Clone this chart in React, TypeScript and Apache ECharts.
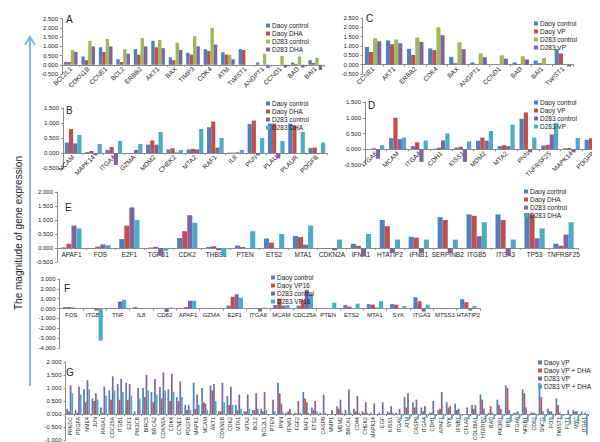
import React, { useEffect, useRef } from "react";
import * as echarts from "echarts";

const FONT = "Liberation Sans, Arial, sans-serif";
const BLUE = "#4F81BD", RED = "#C0504D", GREEN = "#9BBB59", PURPLE = "#8064A2", CYAN = "#4BACC6";

// Panel A
const aCats = ["BCL2L1","CDKN1B","CCNE1","BCL2","ERBB2","AKT1","BAX","TIMP3","CDK4","ATM","TWIST1","ANGPT1","CCND1","BAD","BAI1"];
const aNames = ["Daoy control","Daoy DHA","D283 control","D283 DHA"];
const aDaoyCtrl = [0.15,0.45,0.95,0.3,0.85,1.3,0.4,0.65,0.85,0.68,0.85,0.12,0,0.12,0.25];
const aDaoyDha = [0.15,0.25,0.7,0.15,0.55,0.95,0.25,0.55,0.75,0.55,0.8,0,0,0.05,0.1];
const aD283Ctrl = [0.8,1.3,1.4,0.85,1.45,1.35,1.2,1.55,2.0,0.55,0,0.6,0.48,0.45,0.38];
const aD283Dha = [0.7,1.0,1.0,0.6,1.0,0.9,0.8,1.0,1.1,0.3,0,-0.18,-0.15,-0.15,-0.28];

// Panel C
const cCats = ["CCNE1","AKT1","ERBB2","CDK4","BAX","ANGPT1","CCND1","BAD","BAI1","TWIST1"];
const cNames = ["Daoy control","Daoy VP","D283 control","D283 VP"];
const cDaoyCtrl = [0.95,1.3,0.85,0.87,0.42,0.12,0,0.12,0.22,0.83];
const cDaoyVp = [0.68,1.1,0.52,0.78,0.08,0,0,0.02,0.08,0.6];
const cD283Ctrl = [1.42,1.35,1.45,2.0,1.2,0.6,0.5,0.45,0.35,0];
const cD283Vp = [1.25,1.15,1.22,1.58,0.83,0.4,0.32,0.28,0.02,-0.1];

// Panel B
const bCats = ["MCAM","MAPK14","ITGA4","GZMA","MDM2","CHEK2","MTA2","RAF1","IL8","PNN","PLAU","PLAUR","PDGFB"];
const bNames = ["Daoy control","Daoy DHA","D283 control","D283 DHA"];
const bDaoyCtrl = [0.35,0.03,0.1,0,0.28,0.12,0.12,0.86,0.01,0.97,0.98,0.98,0.17];
const bDaoyDha = [0.8,0.07,0.2,0,0.42,0.16,0.14,1.05,0.01,1.08,0.98,0.92,0.18];
const bD283Ctrl = [0.32,-0.08,-0.4,0.1,0.28,0.02,0.12,0.18,0.02,-0.08,-0.18,0,-0.03];
const bD283Dha = [0.6,0.3,0.4,0.3,0.7,0.1,0.8,0.5,0.1,0.5,0.4,0.7,0.35];

// Panel D
const dCats = ["ITGA6","MCAM","ITGA4","CDH1","KISS1","MDM2","MTA2","PNN","TNFRSF25","MAPK14","PDGFB"];
const dNames = ["Daoy control","Daoy VP","D283 control","D283 VP"];
const dDaoyCtrl = [0,0.35,0.1,0.02,0.05,0.27,0.1,0.97,0.12,0.03,0.3];
const dDaoyVp = [0.03,1.0,0.22,0.05,0.08,0.37,0.13,1.17,0.14,0.04,0.35];
const dD283Ctrl = [-0.3,0.32,-0.4,0.28,-0.4,0.27,0.1,-0.1,0.47,-0.1,0.05];
const dD283Vp = [0.13,0.37,0.28,0.5,0.25,0.58,0.78,0.37,0.83,0.36,0.33];

// Panel E
const eCats = ["APAF1","FOS","E2F1","TGFB1","CDK2","THBS1","PTEN","ETS2","MTA1","CDKN2A","IFNA1","HTATIP2","IFNB1","SERPINB2","ITGB5","ITGA3","TP53","TNFRSF25"];
const eNames = ["Daoy control","Daoy DHA","D283 control","D283 DHA"];
const eDaoyCtrl = [0.02,0,0.32,0.02,0.36,0.04,0.09,0.34,0.43,-0.02,0.15,1.0,0.4,1.1,1.2,1.2,1.25,0.15];
const eDaoyDha = [0.15,0.05,0.8,0.04,0.6,0.06,0.04,0.19,0.39,-0.02,0.08,0.78,0.37,1.0,1.15,1.0,1.2,0.08];
const eD283Ctrl = [0.8,0.13,1.45,-0.28,1.17,-0.08,0,0,0.12,-0.08,-0.3,-0.18,-0.18,-0.18,0.42,-0.25,0.35,0.48];
const eD283Dha = [0.7,0.1,1.0,-0.1,0.9,-0.3,0.6,0.5,0.8,0.3,0.5,0.3,0.3,0.3,0.92,0.3,0.7,0.92];

// Panel F
const fCats = ["FOS","ITGB3","TNF","IL8","CD82","APAF1","GZMA","E2F1","ITGA6","MCAM","CDC25A","PTEN","ETS2","MTA1","SYK","ITGA3","MTSS1","HTATIP2"];
const fNames = ["Daoy control","Daoy VP16","D283 control","D283 VP16"];
const fDaoyCtrl = [0.15,0,0,0.15,0,0,0,0.3,0,0.35,0.3,0.05,0.35,0.45,0.45,1.15,0.05,0.95];
const fDaoyVp16 = [0.15,0,0,0.05,0,0.15,0,1.2,0.05,1.0,0.85,0.02,0.2,0.4,0.4,0.75,0.05,0.65];
const fD283Ctrl = [0.1,-0.2,0.7,0,-0.35,0.8,0.05,1.45,-0.3,0.3,1.9,0,0,0.1,0,-0.3,-0.05,-0.2];
const fD283Vp16 = [0.05,-3.25,0.9,0,0.1,0.8,0,1.1,0.1,0.35,1.5,0.6,0.5,0.75,0.25,0.4,0.05,0.25];

// Panel G
const gCats = ["PRKDC","PDGFA","NME4","JUN","RASA1","CDC25A","ITGB1","E2F1","PIK3CB","BIRC5","BRCA2","CDKN1A","CDK4","CCNE1","PDGFB","MAPK1","MCAM","AKT1","CDKN1B","CDK2","MTA1","MTA2","BCL2","BCL2L1","PTEN","PNN","IFNA1","FGF2","RAF1","ETS2","CASP8","MMP1","MDM2","BRCA1","CD44","CHEK2","MAPK14","EGF","KISS1","ITGAV","ATM","CASP9","ITGA4","CDH1","APAF1","SYK","IFNB1","CFLAR","COL18A1","HTATIP2","BAD","PIK3R1","RB1","ITGA6","NFKB1","CD82","SNCG","FOS","TWIST1","FLT1","MYC","ITGA1"];
const gNames = ["Daoy VP","Daoy VP + DHA","D283 VP","D283 VP + DHA"];
const gDaoyVp = [0.2,0.15,0.95,0.6,0.25,0.9,1.15,1.2,0.1,1.0,0.85,1.05,0.95,0.65,0.35,1.2,1.0,1.1,0.1,0.7,0.35,0.1,0.15,0.2,0,1.2,0.05,0.05,0.85,0.25,0.05,0,0.3,0.15,0.2,0.1,0.05,0.05,0.1,0.05,0.65,0.45,0.25,0.05,0.15,0.45,0.4,0,0.35,0.75,0.05,0.55,1.1,0.05,0.95,0.05,1.2,0.2,0.6,0,0.15,0.1];
const gDaoyVpDha = [0.1,0.05,0.45,0.5,0.05,0.55,0.55,0.55,0,0.65,0.45,0.6,0.5,0.5,0.15,0.2,0.45,0.9,0.1,0.35,0.15,0.1,0.15,0.1,0,0.8,0.1,0.02,0.6,0.15,0,0,0.2,0,0.1,0.05,0,0,0.05,0,0.25,0.25,0.1,0.05,0.2,0.25,0.15,0,0.2,0.55,0.3,0.35,1.0,0.05,0.8,0.05,0.65,0.1,0.35,0,0.1,0];
const gD283Vp = [1.1,1.05,1.3,0.8,1.05,1.45,1.35,1.15,1.0,1.5,1.35,1.6,1.55,1.25,0.35,0.75,0.4,1.15,1.2,1.05,0.75,0.75,0.8,0.85,0.55,0.4,0.2,0.5,0.45,0.5,0.75,0.15,0.55,0.95,0.7,0.45,0.4,0.45,0.3,0.2,0.8,0.55,0.3,0.5,0.85,0.3,0.2,0.25,0.35,0.2,0.05,0.2,0.15,0.1,0.25,0.05,0.1,0.1,0.05,0.15,0.1,0.05];
const gD283VpDha = [0.8,0.75,0.95,0.55,0.7,0.9,0.85,0.7,0.6,0.9,0.75,0.9,0.85,0.65,0.15,0.35,0.15,0.5,0.45,0.35,0.2,0.2,0.2,0.15,0.1,0.05,0.02,0.05,0.05,0.1,0.05,0,0.05,0.05,0.05,0.05,0,0,0.05,-0.2,-0.2,-0.2,-0.15,-0.2,-0.2,-0.2,-0.2,-0.2,-0.2,-0.3,-0.2,-0.2,-0.3,-0.2,-0.3,-0.2,-0.3,-0.2,-0.2,-0.4,-0.4,-0.8];

type Panel = {
  cats: string[]; names: string[]; colors: string[]; values: number[][];
  grid: { left: number; top: number; width: number; height: number };
  y: { min: number; max: number; interval: number };
  legend: { left: number; top: number };
  letter: { x: number; y: number; t: string };
  rotate: number; fontSize: number; gap: string;
};

const panels: Panel[] = [
  { cats: aCats, names: aNames, colors: [BLUE, RED, GREEN, PURPLE], values: [aDaoyCtrl, aDaoyDha, aD283Ctrl, aD283Dha],
    grid: { left: 54, top: 10.7, width: 262, height: 55.3 }, y: { min: -0.5, max: 2.5, interval: 0.5 },
    legend: { left: 258, top: 14 }, letter: { x: 58, y: 6, t: "A" }, rotate: 45, fontSize: 6.5, gap: "22%" },
  { cats: cCats, names: cNames, colors: [BLUE, RED, GREEN, PURPLE], values: [cDaoyCtrl, cDaoyVp, cD283Ctrl, cD283Vp],
    grid: { left: 354.5, top: 10, width: 211, height: 56 }, y: { min: -0.5, max: 2.5, interval: 0.5 },
    legend: { left: 526, top: 12 }, letter: { x: 358, y: 5, t: "C" }, rotate: 45, fontSize: 6.5, gap: "22%" },
  { cats: bCats, names: bNames, colors: [BLUE, RED, PURPLE, CYAN], values: [bDaoyCtrl, bDaoyDha, bD283Ctrl, bD283Dha],
    grid: { left: 55, top: 100, width: 264, height: 60 }, y: { min: -0.5, max: 1.5, interval: 0.5 },
    legend: { left: 258, top: 92 }, letter: { x: 58, y: 97, t: "B" }, rotate: 45, fontSize: 6.5, gap: "18%" },
  { cats: dCats, names: dNames, colors: [BLUE, RED, PURPLE, CYAN], values: [dDaoyCtrl, dDaoyVp, dD283Ctrl, dD283Vp],
    grid: { left: 357, top: 94, width: 239, height: 63 }, y: { min: -0.5, max: 1.5, interval: 0.5 },
    legend: { left: 526, top: 91 }, letter: { x: 360, y: 92, t: "D" }, rotate: 45, fontSize: 6.5, gap: "22%" },
  { cats: eCats, names: eNames, colors: [BLUE, RED, PURPLE, CYAN], values: [eDaoyCtrl, eDaoyDha, eD283Ctrl, eD283Dha],
    grid: { left: 49, top: 184, width: 521, height: 70 }, y: { min: -0.5, max: 2.0, interval: 0.5 },
    legend: { left: 516, top: 180 }, letter: { x: 57, y: 194, t: "E" }, rotate: 0, fontSize: 6.5, gap: "30%" },
  { cats: fCats, names: fNames, colors: [BLUE, RED, PURPLE, CYAN], values: [fDaoyCtrl, fDaoyVp16, fD283Ctrl, fD283Vp16],
    grid: { left: 51.5, top: 271, width: 420.5, height: 69 }, y: { min: -4, max: 3, interval: 1 },
    legend: { left: 263, top: 266 }, letter: { x: 56, y: 275, t: "F" }, rotate: 0, fontSize: 6, gap: "30%" },
  { cats: gCats, names: gNames, colors: [BLUE, RED, PURPLE, CYAN], values: [gDaoyVp, gDaoyVpDha, gD283Vp, gD283VpDha],
    grid: { left: 57.5, top: 354, width: 523, height: 78 }, y: { min: -1, max: 2, interval: 0.5 },
    legend: { left: 530, top: 351 }, letter: { x: 58, y: 359, t: "G" }, rotate: 90, fontSize: 5.3, gap: "18%" },
];

export default function App() {
  const ref = useRef<HTMLDivElement>(null);
  useEffect(() => {
    const chart = echarts.init(ref.current!, null, { renderer: "svg" });
    const grid: any[] = [], xAxis: any[] = [], yAxis: any[] = [], series: any[] = [], legend: any[] = [], graphic: any[] = [];
    panels.forEach((p, i) => {
      grid.push({ ...p.grid, containLabel: false });
      const zeroOffset = -p.grid.height * (0 - p.y.min) / (p.y.max - p.y.min);
      xAxis.push({
        type: "category", gridIndex: i, data: p.cats, position: "bottom", offset: zeroOffset,
        axisLine: { onZero: false, lineStyle: { color: "#8c8c8c", width: 1 } },
        axisTick: { show: true, length: 2, lineStyle: { color: "#8c8c8c" } },
        axisLabel: { interval: 0, rotate: p.rotate, fontSize: p.fontSize, color: "#222", margin: 3, fontFamily: FONT },
      });
      yAxis.push({
        type: "value", gridIndex: i, min: p.y.min, max: p.y.max, interval: p.y.interval,
        splitLine: { show: false },
        axisLine: { show: true, lineStyle: { color: "#8c8c8c" } },
        axisTick: { show: true, length: 2, lineStyle: { color: "#8c8c8c" } },
        axisLabel: { fontSize: 6, color: "#222", margin: 4, fontFamily: FONT, formatter: (v: number) => v.toFixed(3) },
      });
      p.values.forEach((vals, k) => {
        series.push({
          type: "bar", name: p.names[k], xAxisIndex: i, yAxisIndex: i, data: vals,
          itemStyle: { color: p.colors[k] }, barGap: "0%", barCategoryGap: p.gap,
        });
      });
      legend.push({
        orient: "vertical", left: p.legend.left, top: p.legend.top, padding: 0,
        itemWidth: 4, itemHeight: 4, itemGap: 1, icon: "rect", selectedMode: false,
        textStyle: { fontSize: 6.5, lineHeight: 6.5, color: "#222", fontFamily: FONT, padding: [0, 0, 0, -3] },
        data: p.names.map((n, k) => ({ name: n, itemStyle: { color: p.colors[k] } })),
      });
      graphic.push({ type: "text", left: p.letter.x, top: p.letter.y, style: { text: p.letter.t, fontSize: 10, fontFamily: FONT, fill: "#222" } });
    });
    graphic.push({ type: "line", shape: { x1: 22, y1: 378, x2: 22, y2: 29 }, style: { stroke: "#8DB3E2", lineWidth: 2 } });
    graphic.push({ type: "polyline", shape: { points: [[17, 37], [22, 29], [27, 37]] }, style: { stroke: "#8DB3E2", lineWidth: 2, fill: "none" } });
    graphic.push({
      type: "text", x: 10, y: 225, rotation: Math.PI / 2,
      style: { text: "The magnitude of gene expression", fontSize: 10, fontFamily: FONT, fill: "#222", align: "center", verticalAlign: "middle" },
    });
    chart.setOption({ animation: false, backgroundColor: "#fff", grid, xAxis, yAxis, series, legend, graphic, tooltip: { show: false } });
    return () => chart.dispose();
  }, []);
  return <div ref={ref} style={{ position: "fixed", left: 0, top: 0, width: 600, height: 442, background: "#fff" }} />;
}
